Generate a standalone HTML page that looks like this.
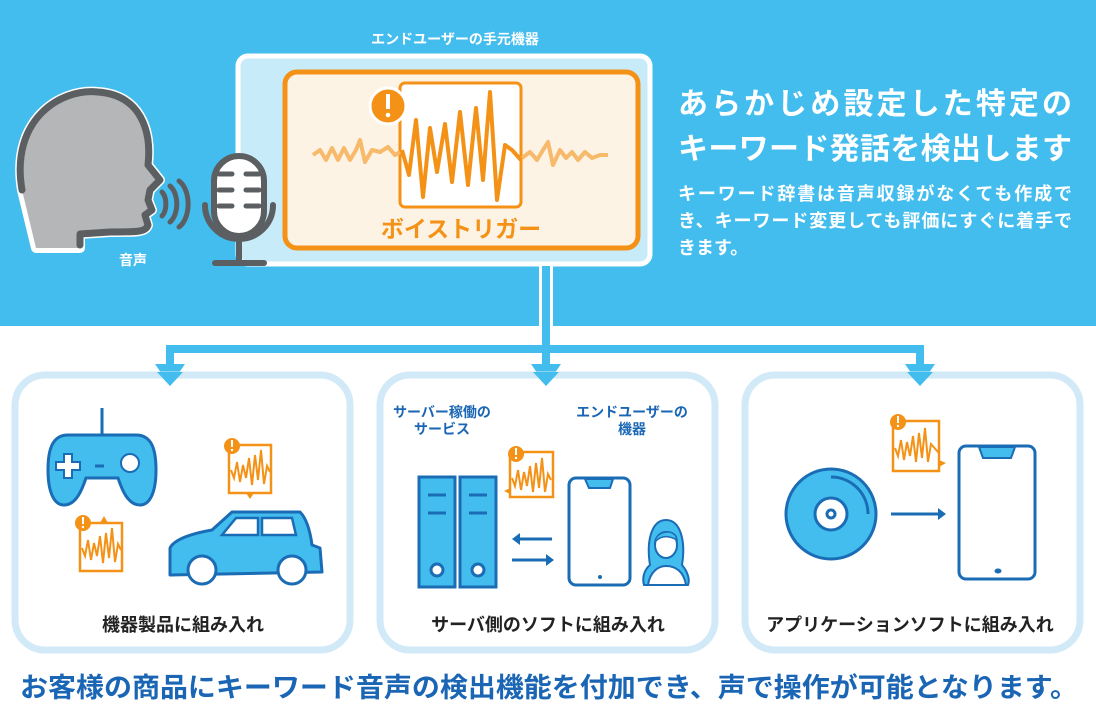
<!DOCTYPE html>
<html><head><meta charset="utf-8"><style>
html,body{margin:0;padding:0;background:#fff}
svg{display:block}
text{font-family:"Liberation Sans","Noto Sans CJK JP",sans-serif;font-weight:bold}
</style></head><body>
<svg width="1096" height="716" viewBox="0 0 1096 716" xmlns="http://www.w3.org/2000/svg">
<rect x="0" y="0" width="1096" height="326" fill="#43bdee"/>
<text x="455" y="44" fill="#fff" font-size="14" text-anchor="middle">エンドユーザーの手元機器</text>
<rect x="238" y="56" width="412" height="208" rx="10" fill="#c8ebfa" stroke="#fff" stroke-width="5"/>
<rect x="285" y="72" width="353" height="176" rx="12" fill="#fdf3e5" stroke="#f39217" stroke-width="5"/>
<rect x="400" y="83" width="121" height="124" rx="5" fill="#fff" stroke="#f39217" stroke-width="3"/>
<polyline points="313,155 320,150 326,160 332,148 338,160 344,148 350,160 356,150 360,140 365,162 372,150 380,152 388,147 395,155 400,152" fill="none" stroke="#f7b96a" stroke-width="4" stroke-linejoin="round"/>
<polyline points="522,158 530,152 537,160 543,150 548,142 553,165 560,150 566,158 572,152 578,160 585,152 592,158 600,155 608,155" fill="none" stroke="#f7b96a" stroke-width="4" stroke-linejoin="round"/>
<polyline points="402,150 409,175 416,120 423,197 430,128 437,172 445,124 452,182 460,112 468,185 476,108 483,180 490,92 497,200 505,145 512,150 521,160" fill="none" stroke="#f39217" stroke-width="4" stroke-linejoin="round"/>
<circle cx="388" cy="106" r="18" fill="#f39217" stroke="#fff" stroke-width="3"/>
<rect x="386" y="94" width="4" height="15" fill="#fff"/><circle cx="388" cy="115" r="2.3" fill="#fff"/>
<text x="461" y="237" fill="#f39217" font-size="23" font-weight="normal" text-anchor="middle">ボイストリガー</text>
<path d="M22,190 C10,120 60,88 98,92 C140,95 152,130 148,165 L160,180 L150,190 L148,200 L152,210 L145,215 L148,225 C146,232 138,232 110,232 L80,234 L80,248 L36,248 Z" fill="#b4b6b8" stroke="#fff" stroke-width="10" stroke-linejoin="round"/>
<path d="M22,190 C10,120 60,88 98,92 C140,95 152,130 148,165 L160,180 L150,190 L148,200 L152,210 L145,215 L148,225 C146,232 138,232 110,232 L80,234 L80,248 L36,248 Z" fill="#b4b6b8"/>
<path d="M22,190 C10,120 60,88 98,92 C140,95 152,130 148,165 L160,180 L150,190 L148,200 L152,210 L145,215 L148,225 C146,232 138,232 110,232 L80,234 L80,245" fill="none" stroke="#5c5f61" stroke-width="7" stroke-linecap="round" stroke-linejoin="round"/>
<path d="M162,192 a8,14 0 0 1 0,24 M170,186 a12,20 0 0 1 0,36 M179,181 a15,25 0 0 1 0,46" fill="none" stroke="#5c5f61" stroke-width="5" stroke-linecap="round"/>
<text x="133" y="265" fill="#fff" font-size="14" text-anchor="middle">音声</text>
<rect x="214" y="156" width="50" height="80" rx="25" fill="#fff" stroke="#5c5f61" stroke-width="6"/>
<g stroke="#5c5f61" stroke-width="5" stroke-linecap="round"><line x1="219" y1="174" x2="232" y2="174"/><line x1="246" y1="174" x2="259" y2="174"/><line x1="219" y1="190" x2="232" y2="190"/><line x1="246" y1="190" x2="259" y2="190"/><line x1="219" y1="206" x2="232" y2="206"/><line x1="246" y1="206" x2="259" y2="206"/></g>
<path d="M205,205 a34,34 0 0 0 68,0" fill="none" stroke="#5c5f61" stroke-width="6" stroke-linecap="round"/>
<line x1="239" y1="240" x2="239" y2="262" stroke="#5c5f61" stroke-width="6"/>
<line x1="215" y1="263" x2="264" y2="263" stroke="#5c5f61" stroke-width="6" stroke-linecap="round"/>
<text x="678" y="114" fill="#fff" font-size="30" textLength="394" lengthAdjust="spacing">あらかじめ設定した特定の</text>
<text x="678" y="159" fill="#fff" font-size="30" textLength="394" lengthAdjust="spacing">キーワード発話を検出します</text>
<text x="678" y="200" fill="#fff" font-size="18" font-weight="normal" textLength="394" lengthAdjust="spacing">キーワード辞書は音声収録がなくても作成で</text>
<text x="678" y="227" fill="#fff" font-size="18" font-weight="normal" textLength="394" lengthAdjust="spacing">き、キーワード変更しても評価にすぐに着手で</text>
<text x="678" y="254" fill="#fff" font-size="18" font-weight="normal">きます。</text>
<rect x="539" y="266" width="14" height="64" fill="#fff"/>
<rect x="542" y="266" width="8" height="84" fill="#43bdee"/>
<rect x="166" y="345" width="758" height="8" fill="#43bdee"/>
<rect x="166" y="345" width="8" height="22" fill="#43bdee"/>
<rect x="542" y="345" width="8" height="22" fill="#43bdee"/>
<rect x="916" y="345" width="8" height="22" fill="#43bdee"/>
<polygon points="155,364 185,364 170,386" fill="#43bdee"/>
<polygon points="531,364 561,364 546,386" fill="#43bdee"/>
<polygon points="905,364 935,364 920,386" fill="#43bdee"/>
<g fill="none" stroke="#d2eaf7" stroke-width="7">
<rect x="15" y="375" width="335" height="275" rx="30"/>
<rect x="380" y="375" width="335" height="275" rx="30"/>
<rect x="745" y="375" width="335" height="275" rx="30"/>
</g>
<polygon points="157,372 183,372 170,386" fill="#43bdee"/>
<polygon points="533,372 559,372 546,386" fill="#43bdee"/>
<polygon points="907,372 933,372 920,386" fill="#43bdee"/>
<text x="183" y="631" fill="#222" font-size="18" text-anchor="middle">機器製品に組み入れ</text>
<text x="548" y="631" fill="#222" font-size="18" text-anchor="middle">サーバ側のソフトに組み入れ</text>
<text x="910" y="631" fill="#222" font-size="18" text-anchor="middle">アプリケーションソフトに組み入れ</text>
<text x="20" y="697" fill="#1a66b5" font-size="27" textLength="1058" lengthAdjust="spacingAndGlyphs">お客様の商品にキーワード音声の検出機能を付加でき、声で操作が可能となります。</text>
<line x1="102" y1="408" x2="102" y2="434" stroke="#1a6cb5" stroke-width="3"/>
<path d="M68,435 L136,435 C152,435 156,450 156,470 C156,492 150,505 140,505 C128,505 122,490 118,478 L86,478 C82,490 76,505 64,505 C54,505 48,492 48,470 C48,450 52,435 68,435 Z" fill="#43bdee" stroke="#1a6cb5" stroke-width="3"/>
<path d="M64,454 h8 v8 h8 v8 h-8 v8 h-8 v-8 h-8 v-8 h8 z" fill="#fff" stroke="#1a6cb5" stroke-width="2"/>
<line x1="95" y1="466" x2="104" y2="466" stroke="#1a6cb5" stroke-width="3"/>
<circle cx="130" cy="463" r="9" fill="#fff" stroke="#1a6cb5" stroke-width="2"/>
<path d="M170,575 L170,548 C175,538 195,533 212,530 L232,512 L300,512 C306,518 310,530 312,545 L320,548 L322,572 L170,575 Z" fill="#43bdee" stroke="#1a6cb5" stroke-width="3" stroke-linejoin="round"/>
<path d="M222,535 L236,518 L258,518 L258,535 Z M262,518 L292,518 L296,535 L262,535 Z" fill="#fff" stroke="#1a6cb5" stroke-width="2.5"/>
<circle cx="202" cy="570" r="14" fill="#fff" stroke="#1a6cb5" stroke-width="3"/>
<circle cx="292" cy="570" r="14" fill="#fff" stroke="#1a6cb5" stroke-width="3"/>
<rect x="229" y="445" width="42" height="48" fill="#fff" stroke="#f39217" stroke-width="2.5"/>
<polyline points="231,470 234,478 237,462 240,482 243,465 246,478 249,458 252,485 255,455 258,480 261,450 264,484 267,466 270,472" fill="none" stroke="#f39217" stroke-width="2"/>
<polygon points="246,493 254,493 250,499" fill="#f39217"/>
<circle cx="232" cy="446" r="8" fill="#f39217"/><rect x="231" y="440" width="2" height="7" fill="#fff"/><circle cx="232" cy="450" r="1.2" fill="#fff"/>
<rect x="80" y="523" width="42" height="48" fill="#fff" stroke="#f39217" stroke-width="2.5"/>
<polyline points="82,548 85,556 88,540 91,560 94,543 97,556 100,536 103,563 106,533 109,558 112,528 115,562 118,544 121,550" fill="none" stroke="#f39217" stroke-width="2"/>
<polygon points="100,523 108,523 104,516" fill="#f39217"/>
<circle cx="83" cy="523" r="8" fill="#f39217"/><rect x="82" y="517" width="2" height="7" fill="#fff"/><circle cx="83" cy="527" r="1.2" fill="#fff"/>
<text x="442" y="417" fill="#1a66b5" font-size="14" text-anchor="middle">サーバー稼働の</text>
<text x="442" y="434" fill="#1a66b5" font-size="14" text-anchor="middle">サービス</text>
<text x="632" y="417" fill="#1a66b5" font-size="14" text-anchor="middle">エンドユーザーの</text>
<text x="632" y="434" fill="#1a66b5" font-size="14" text-anchor="middle">機器</text>
<g fill="#43bdee" stroke="#1a6cb5" stroke-width="3">
<rect x="419" y="477" width="36" height="110"/><rect x="460" y="477" width="36" height="110"/>
</g>
<g stroke="#1a6cb5" stroke-width="3"><line x1="428" y1="495" x2="446" y2="495"/><line x1="428" y1="513" x2="446" y2="513"/><line x1="469" y1="495" x2="487" y2="495"/><line x1="469" y1="513" x2="487" y2="513"/></g>
<circle cx="437" cy="570" r="6" fill="#fff" stroke="#1a6cb5" stroke-width="3"/><circle cx="478" cy="570" r="6" fill="#fff" stroke="#1a6cb5" stroke-width="3"/>
<rect x="510" y="452" width="43" height="45" fill="#fff" stroke="#f39217" stroke-width="2.5"/>
<polyline points="512,478 515,486 518,470 521,490 524,472 527,486 530,466 533,492 536,463 539,488 542,458 545,492 548,474 551,480" fill="none" stroke="#f39217" stroke-width="2"/>
<polygon points="510,488 510,494 504,491" fill="#f39217"/>
<circle cx="516" cy="454" r="8" fill="#f39217"/><rect x="515" y="448" width="2" height="7" fill="#fff"/><circle cx="516" cy="458" r="1.2" fill="#fff"/>
<g stroke="#1a6cb5" stroke-width="3" fill="#1a6cb5"><line x1="518" y1="539" x2="552" y2="539"/><polygon points="512,539 520,533 520,545" stroke="none"/><line x1="512" y1="560" x2="546" y2="560"/><polygon points="554,560 546,554 546,566" stroke="none"/></g>
<rect x="569" y="478" width="61" height="107" rx="7" fill="#fff" stroke="#1a6cb5" stroke-width="3"/>
<path d="M585,479 L613,479 L610,488 L589,488 Z" fill="#43bdee" stroke="#1a6cb5" stroke-width="2"/>
<circle cx="600" cy="577" r="2" fill="#1a6cb5"/>
<path d="M650,565 C646,540 652,520 666,520 C680,520 686,540 682,565 C688,572 690,580 688,585 L644,585 C642,578 644,570 650,565 Z" fill="#43bdee" stroke="#1a6cb5" stroke-width="2"/>
<path d="M648,585 C650,572 658,566 666,566 C676,566 684,572 686,585 Z" fill="#fff" stroke="#1a6cb5" stroke-width="2"/>
<ellipse cx="666" cy="545" rx="11" ry="13" fill="#fff" stroke="#1a6cb5" stroke-width="2"/>
<path d="M655,542 C656,530 676,528 677,540 C670,536 662,534 655,542 Z" fill="#43bdee" stroke="#1a6cb5" stroke-width="1.5"/>
<circle cx="831" cy="514" r="45" fill="#43bdee" stroke="#1a6cb5" stroke-width="3"/>
<path d="M831,477 A37,37 0 0 1 868,514" fill="none" stroke="#1a6cb5" stroke-width="3"/>
<circle cx="831" cy="514" r="16" fill="#fff" stroke="#1a6cb5" stroke-width="3"/>
<circle cx="831" cy="514" r="4" fill="#fff" stroke="#1a6cb5" stroke-width="3"/>
<line x1="891" y1="514" x2="938" y2="514" stroke="#1a6cb5" stroke-width="3"/>
<polygon points="946,514 938,508 938,520" fill="#1a6cb5"/>
<rect x="959" y="446" width="76" height="133" rx="7" fill="#fff" stroke="#1a6cb5" stroke-width="3"/>
<path d="M979,447 L1015,447 L1011,458 L983,458 Z" fill="#43bdee" stroke="#1a6cb5" stroke-width="2"/>
<ellipse cx="998" cy="571" rx="3.5" ry="2.5" fill="#1a6cb5"/>
<rect x="893" y="421" width="46" height="50" fill="#fff" stroke="#f39217" stroke-width="2.5"/>
<polyline points="895,448 898,456 901,440 904,460 907,442 910,456 913,436 916,462 919,433 922,458 925,428 928,462 931,444 938,452" fill="none" stroke="#f39217" stroke-width="2"/>
<polygon points="939,460 939,467 946,463" fill="#f39217"/>
<circle cx="898" cy="422" r="8" fill="#f39217"/><rect x="897" y="416" width="2" height="7" fill="#fff"/><circle cx="898" cy="426" r="1.2" fill="#fff"/>
</svg>
</body></html>
